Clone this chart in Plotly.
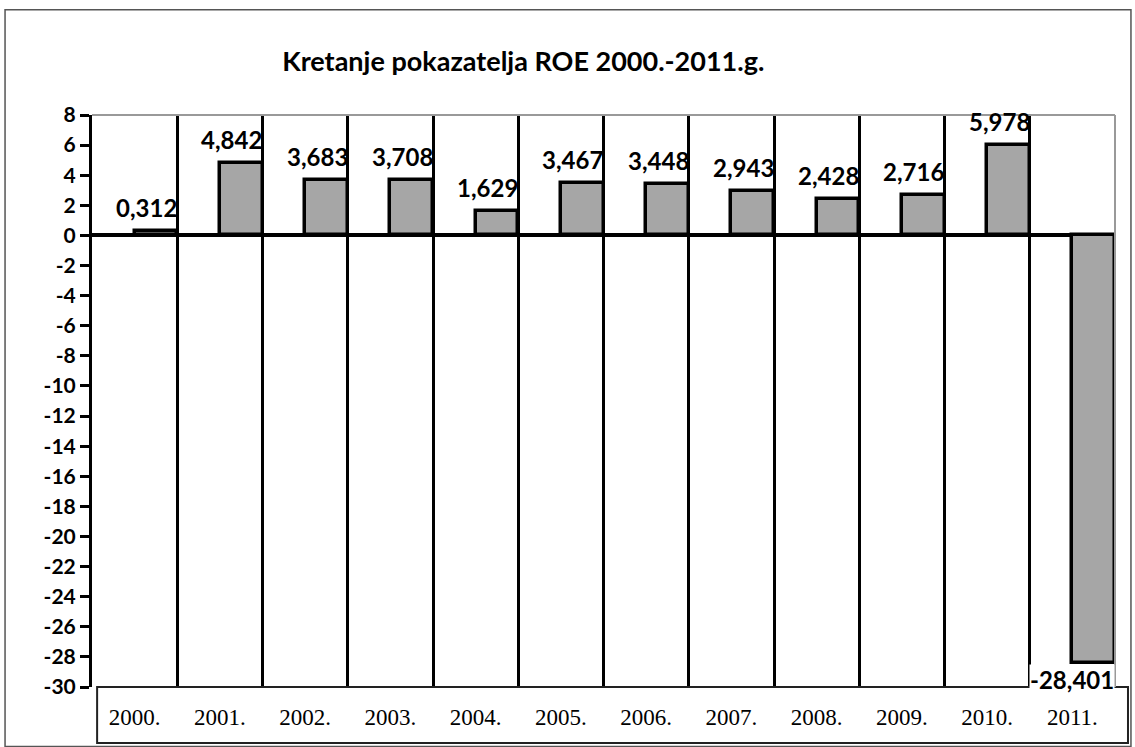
import plotly.graph_objects as go

years = ["2000.", "2001.", "2002.", "2003.", "2004.", "2005.", "2006.",
         "2007.", "2008.", "2009.", "2010.", "2011."]
roe = [0.312, 4.842, 3.683, 3.708, 1.629, 3.467, 3.448, 2.943, 2.428, 2.716, 5.978, -28.401]
y_ticks = list(range(-30, 9, 2))
y_tick_labels = [str(v) for v in y_ticks]
labels = [f"{v:.3f}".replace(".", ",") for v in roe]

fig = go.Figure()
fig.add_trace(go.Bar(
    x=years, y=roe, width=0.5, offset=0,
    marker=dict(color="#a6a6a6", line=dict(color="black", width=3.5)),
    showlegend=False, hoverinfo="x+y",
))

annotations = []
for i, (v, lab) in enumerate(zip(roe, labels)):
    annotations.append(dict(
        x=i, y=v, xref="x", yref="y", text=f"<b>{lab}</b>", showarrow=False,
        xanchor="center", yanchor="bottom" if v >= 0 else "top",
        xshift=12 if v >= 0 else 0, yshift=8 if v >= 0 else -1,
        bgcolor="rgba(255,255,255,0)" if v >= 0 else "white",
        borderpad=0,
        font=dict(family="Lato", size=24, color="black"),
    ))

fig.update_layout(
    width=1135, height=747,
    paper_bgcolor="white", plot_bgcolor="white",
    margin=dict(l=92, r=20, t=115, b=60),
    title=dict(text="<b>Kretanje pokazatelja ROE 2000.-2011.g.</b>",
               font=dict(family="Lato", size=27, color="black"),
               x=0.461, xref="container", xanchor="center",
               y=0.917, yref="container", yanchor="middle"),
    bargap=0,
    annotations=annotations,
    xaxis=dict(type="category", categoryorder="array", categoryarray=years,
               range=[-0.5, 11.5], tickson="boundaries", showgrid=True,
               gridcolor="black", gridwidth=2.5, ticks="", showline=False,
               zeroline=False, ticklabelstandoff=14,
               tickfont=dict(family="Liberation Serif", size=23, color="black")),
    yaxis=dict(range=[-30, 8], tickvals=y_ticks, ticktext=y_tick_labels,
               showgrid=False, zeroline=True, zerolinecolor="black", zerolinewidth=3.5,
               showline=True, linecolor="black", linewidth=3,
               ticks="outside", ticklen=9, tickwidth=3, tickcolor="black",
               tickfont=dict(family="Lato", size=21, color="black", weight="bold")),
    shapes=[
        dict(type="rect", xref="paper", yref="paper", x0=0.005, x1=1.0127, y0=-0.098, y1=0,
             line=dict(color="#222", width=2)),
        dict(type="line", xref="paper", yref="paper", x0=0, x1=1, y0=1, y1=1,
             line=dict(color="#999", width=2)),
        dict(type="line", xref="paper", yref="paper", x0=1, x1=1, y0=0, y1=1,
             line=dict(color="#999", width=2)),
        dict(type="rect", xref="paper", yref="paper", x0=-0.085, x1=1.0156, y0=-0.104, y1=1.184,
             line=dict(color="#555", width=1.5)),
    ],
)

fig.write_html("out.html", config={"displayModeBar": False},
               post_script="document.body.style.margin='0';")
